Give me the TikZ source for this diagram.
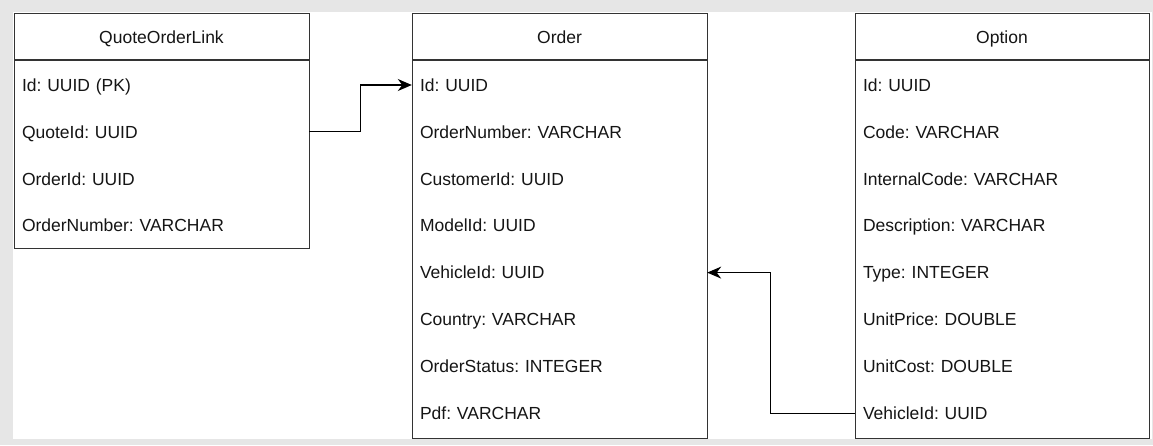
\documentclass[tikz,border=0pt]{standalone}
\usepackage{fontspec}
\setmainfont{Liberation Sans}
\usetikzlibrary{arrows.meta,calc}
\definecolor{bg}{HTML}{E6E6E6}
\definecolor{ln}{HTML}{333333}
\definecolor{tx}{HTML}{151515}
\frenchspacing
\begin{document}
\begin{tikzpicture}[x=1pt,y=-1pt,
  tbl/.style={draw=ln,line width=1.1pt,fill=white,anchor=north west,minimum width=295pt,inner sep=0pt},
  hdr/.style={font=\fontsize{17.5}{21}\selectfont,text=tx,inner sep=0pt,text height=12.5pt,text depth=0pt},
  row/.style={font=\fontsize{17.5}{21}\selectfont,text=tx,text width=279pt,inner xsep=8pt,inner ysep=0pt,align=left,text height=12.5pt,text depth=0pt},
  sep/.style={draw=ln,line width=1.1pt},
  conn/.style={draw=black,line width=1.1pt,-{Stealth[length=14pt,width=12pt,inset=4.5pt]}}]
\useasboundingbox (0,0) rectangle (1153,445);
\fill[bg] (0,0) rectangle (1153,445);
\fill[white] (13,12) rectangle (1152,439);

% QuoteOrderLink
\node[tbl,minimum height=235.5pt] (qol) at (14,12.5) {};
\node[hdr] (qolh) at (161.5,37) {QuoteOrderLink};
\draw[sep] (qol.west |- 0,60) -- (qol.east |- 0,60);
\foreach \t [count=\i] in {Id: UUID (PK), QuoteId: UUID, OrderId: UUID, OrderNumber: VARCHAR}
  \node[row] (qol-\i) at (161.5,{85+(\i-1)*46.9}) {\t};

% Order
\node[tbl,minimum height=425pt] (ord) at (412,13) {};
\node[hdr] (ordh) at (559.5,37) {Order};
\draw[sep] (ord.west |- 0,60) -- (ord.east |- 0,60);
\foreach \t [count=\i] in {Id: UUID, OrderNumber: VARCHAR, CustomerId: UUID, ModelId: UUID, VehicleId: UUID, Country: VARCHAR, OrderStatus: INTEGER, Pdf: VARCHAR}
  \node[row] (ord-\i) at (559.5,{85+(\i-1)*46.9}) {\t};

% Option
\node[tbl,minimum width=294pt,minimum height=425pt] (opt) at (855,13) {};
\node[hdr] (opth) at (1002,37) {Option};
\draw[sep] (opt.west |- 0,60) -- (opt.east |- 0,60);
\foreach \t [count=\i] in {Id: UUID, Code: VARCHAR, InternalCode: VARCHAR, Description: VARCHAR, Type: INTEGER, UnitPrice: DOUBLE, UnitCost: DOUBLE, VehicleId: UUID}
  \node[row,text width=278pt] (opt-\i) at (1002,{85+(\i-1)*46.9}) {\t};

% connectors
\draw[conn] (qol-2.east) -| ($(qol-2.east)!0.5!(ord-1.west)$) |- (ord-1.west);
\draw[conn] (opt-8.west) -- ++(-84,0) |- (ord-5.east);
\end{tikzpicture}
\end{document}
